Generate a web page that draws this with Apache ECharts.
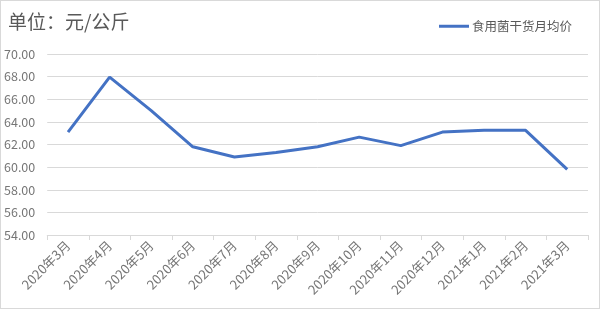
<!DOCTYPE html>
<html><head><meta charset="utf-8">
<script src="https://cdn.jsdelivr.net/npm/echarts@6/dist/echarts.min.js"></script>
<style>
html,body{margin:0;padding:0;background:#fff;}
#c{width:598px;height:307px;border:1px solid #d9d9d9;}
</style></head>
<body><div id="c"></div>
<script>
const categories = ['2020年3月','2020年4月','2020年5月','2020年6月','2020年7月','2020年8月','2020年9月','2020年10月','2020年11月','2020年12月','2021年1月','2021年2月','2021年3月'];
const values = [63.1, 67.95, 65.0, 61.8, 60.9, 61.3, 61.8, 62.65, 61.9, 63.1, 63.25, 63.25, 59.8];
const seriesName = '食用菌干货月均价';
const titleText = '单位：元/公斤';
const yMin = 54, yMax = 70, yStep = 2;

const font = '"Noto Sans CJK SC", "Noto Sans", sans-serif';
const chart = echarts.init(document.getElementById('c'));
chart.setOption({
  animation: false,
  textStyle: {fontFamily: font},
  title: {text: titleText, left: 2, top: 6, textStyle: {fontSize: 19, fontWeight: 'normal', color: '#595959', fontFamily: font}},
  legend: {top: 14, right: 22, itemWidth: 30, itemHeight: 3, itemGap: 4, icon: 'rect',
    textStyle: {fontSize: 12.5, color: '#595959', fontFamily: font, padding: [0,0,0,-2]}},
  grid: {left: 46, right: 11, top: 53, bottom: 73},
  xAxis: {type: 'category', data: categories, boundaryGap: true,
    axisLine: {lineStyle: {color: '#d9d9d9'}},
    axisTick: {show: true, length: 5, lineStyle: {color: '#d9d9d9'}},
    axisLabel: {rotate: 45, fontSize: 13, color: '#767676', margin: 8, interval: 0, fontFamily: font}},
  yAxis: {type: 'value', min: yMin, max: yMax, interval: yStep,
    axisLine: {show: false}, axisTick: {show: false},
    splitLine: {lineStyle: {color: '#d9d9d9', width: 1}},
    axisLabel: {fontSize: 12.5, color: '#767676', margin: 12, fontFamily: font, formatter: v => v.toFixed(2)}},
  series: [{name: seriesName, type: 'line', data: values, showSymbol: false, symbol: 'none',
    lineStyle: {color: '#4472C4', width: 3}, itemStyle: {color: '#4472C4'}}]
});
</script></body></html>
